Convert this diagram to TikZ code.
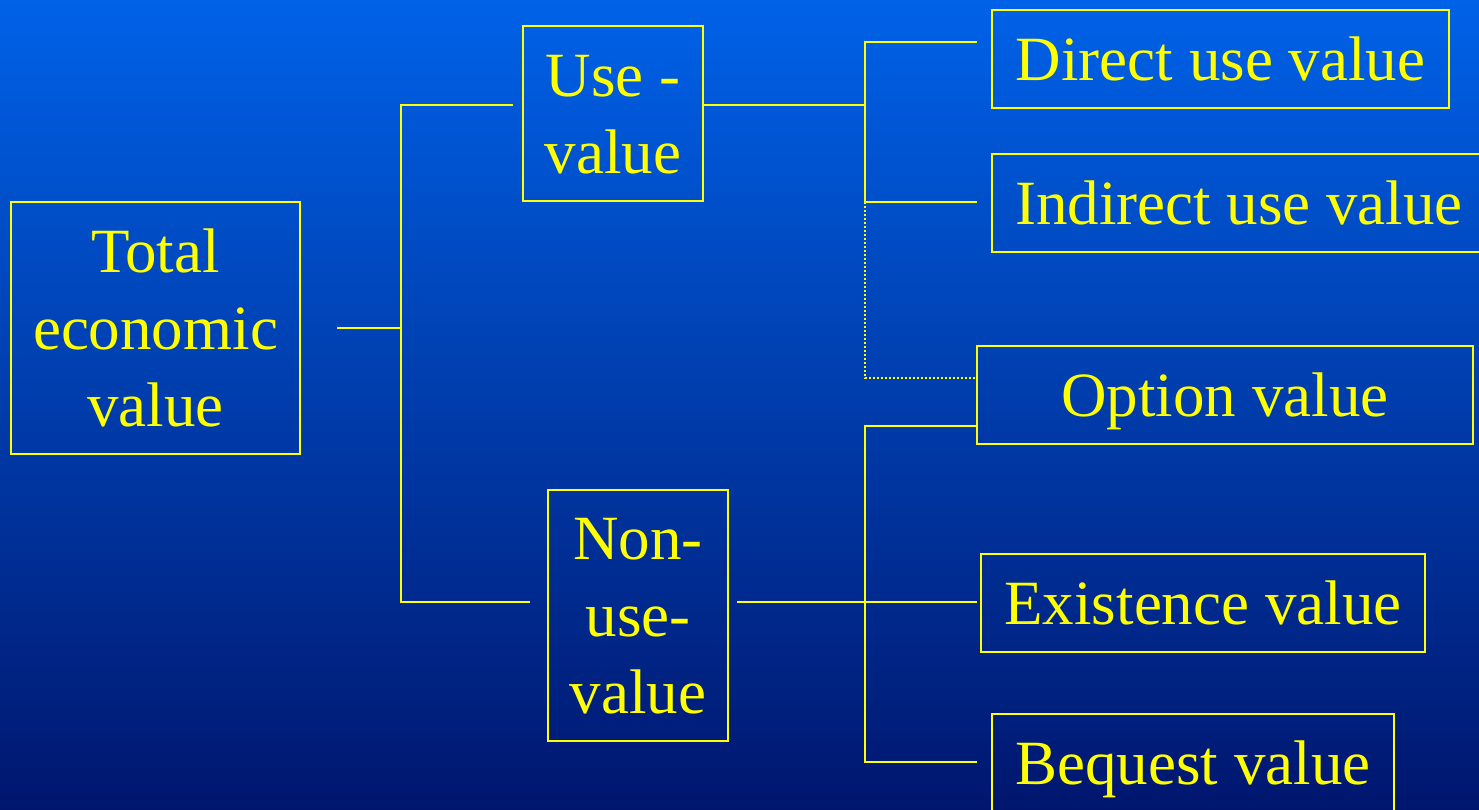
\documentclass[tikz,border=0pt]{standalone}
\usepackage{fontspec}
\setmainfont{Liberation Serif}
\definecolor{bgtop}{RGB}{0,98,232}
\definecolor{bgbot}{RGB}{0,22,110}
\definecolor{ylw}{RGB}{255,255,0}
\newcommand{\dnlines}[1]{\raisebox{-12pt}[0pt][0pt]{\begin{tabular}{@{}c@{}}#1\end{tabular}}}
\tikzset{
  box/.style={draw=ylw, line width=2.7pt, text=ylw, inner sep=0pt,
    font=\fontsize{63}{77}\selectfont},
  conn/.style={draw=ylw, line width=1.8pt},
  dotconn/.style={draw=ylw, line width=1.8pt, dash pattern=on 1.6pt off 2.4pt},
}
\begin{document}
\begin{tikzpicture}[x=1pt,y=-1pt]
\useasboundingbox (0,0) rectangle (1479,810);
\clip (0,0) rectangle (1479,810);
\shade[top color=bgtop, bottom color=bgbot] (0,0) rectangle (1479,810);

% boxes
\node[box, minimum width=289pt, minimum height=252pt] (tev) at (155.5,328) {\dnlines{Total\\economic\\value}};
\node[box, minimum width=180pt, minimum height=175pt] (use) at (613,113.5) {\dnlines{Use -\\value}};
\node[box, minimum width=180pt, minimum height=251pt] (non) at (638,615.5) {\dnlines{Non-\\use-\\value}};
\node[box, minimum width=457pt, minimum height=98pt] (dir) at (1220.5,59) {\dnlines{Direct use value}};
\node[box, minimum width=488pt, minimum height=98pt] (ind) at (1236,203) {\dnlines{\hspace*{6pt}Indirect use value}};
\node[box, minimum width=496pt, minimum height=98pt] (opt) at (1225,395) {\dnlines{Option value}};
\node[box, minimum width=444pt, minimum height=98pt] (exi) at (1203,603) {\dnlines{Existence value}};
\node[box, minimum width=402pt, minimum height=98pt] (beq) at (1193,763) {\dnlines{Bequest value}};

% junction coordinates
\coordinate (t0) at (337,328);
\coordinate (j1) at (401,328);
\coordinate (j1a) at (401,105);
\coordinate (j1b) at (401,602);
\coordinate (u0) at (513,105);
\coordinate (n0) at (530,602);
\coordinate (u1) at (703,105);
\coordinate (j2) at (865,105);
\coordinate (j2a) at (865,42);
\coordinate (j2b) at (865,202);
\coordinate (d0) at (977,42);
\coordinate (i0) at (977,202);
\coordinate (j2c) at (865,378);
\coordinate (o0) at (975,378);
\coordinate (n1) at (737,602);
\coordinate (j3a) at (865,426);
\coordinate (j3b) at (865,762);
\coordinate (o1) at (977,426);
\coordinate (e0) at (977,602);
\coordinate (b0) at (977,762);

% connectors
\draw[conn] (t0) -- (j1);
\draw[conn] (u0) -- (j1a) -- (j1b) -- (n0);
\draw[conn] (u1) -- (j2);
\draw[conn] (d0) -- (j2a) -- (j2b) -- (i0);
\draw[dotconn] (j2b) -- (j2c) -- (o0);
\draw[conn] (n1) -- (e0);
\draw[conn] (o1) -- (j3a) -- (j3b) -- (b0);
\end{tikzpicture}
\end{document}
